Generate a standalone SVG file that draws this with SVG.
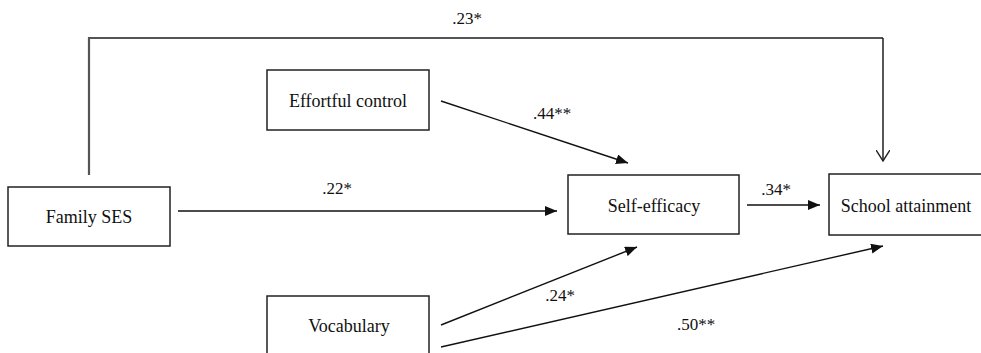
<svg xmlns="http://www.w3.org/2000/svg" width="981" height="353" viewBox="0 0 981 353">
<defs>
<style>
.box{fill:#fff;stroke:#222;stroke-width:1.5}
text{font-family:'Liberation Serif','Times New Roman',Times,serif;fill:#111;text-anchor:middle}
.lbl{font-size:18px}
.num{font-size:17px}
.ln{fill:none;stroke:#111;stroke-width:1.4}
.top{fill:none;stroke:#555;stroke-width:2.2}
</style>
<marker id="fa" viewBox="0 0 12 10" refX="12" refY="5" markerWidth="12" markerHeight="10" markerUnits="userSpaceOnUse" orient="auto">
<path d="M0,0 L12,5 L0,10 Z" fill="#111"/>
</marker>
<marker id="oa" viewBox="0 0 12 14" refX="11" refY="7" markerWidth="12" markerHeight="14" markerUnits="userSpaceOnUse" orient="auto">
<path d="M0,0 L11,7 L0,14" fill="none" stroke="#222" stroke-width="1.4"/>
</marker>
</defs>
<rect width="981" height="353" fill="#fff"/>
<g id="connectors" font-family="Liberation Serif, serif">
<polyline class="top" points="89,175 89,38 883,38"/>
<line class="ln" x1="883" y1="38" x2="883" y2="161" marker-end="url(#oa)"/>
<line class="ln" x1="441" y1="101" x2="628" y2="163" marker-end="url(#fa)"/>
<line class="ln" x1="178" y1="211" x2="557" y2="211" marker-end="url(#fa)"/>
<line class="ln" x1="747" y1="205" x2="820" y2="205" marker-end="url(#fa)"/>
<line class="ln" x1="441" y1="325" x2="637" y2="247" marker-end="url(#fa)"/>
<line class="ln" x1="441" y1="347" x2="883" y2="246" marker-end="url(#fa)"/>
<text class="num" x="467" y="24">.23*</text>
<text class="num" x="552" y="119">.44**</text>
<text class="num" x="337" y="194">.22*</text>
<text class="num" x="776" y="195">.34*</text>
<text class="num" x="560" y="301">.24*</text>
<text class="num" x="696" y="330">.50**</text>
</g>
<g id="effortful">
<rect class="box" x="267" y="70" width="162" height="60"/>
<text class="lbl" x="348" y="107">Effortful control</text>
</g>
<g id="familyses">
<rect class="box" x="8" y="187" width="162" height="59"/>
<text class="lbl" x="89" y="223">Family SES</text>
</g>
<g id="vocabulary">
<rect class="box" x="267" y="296" width="162" height="70"/>
<text class="lbl" x="349" y="332">Vocabulary</text>
</g>
<g id="selfefficacy">
<rect class="box" x="568" y="175" width="171" height="59"/>
<text class="lbl" x="654" y="212">Self-efficacy</text>
</g>
<g id="school">
<rect class="box" x="829" y="174" width="160" height="61"/>
<text class="lbl" x="906" y="212">School attainment</text>
</g>
</svg>
